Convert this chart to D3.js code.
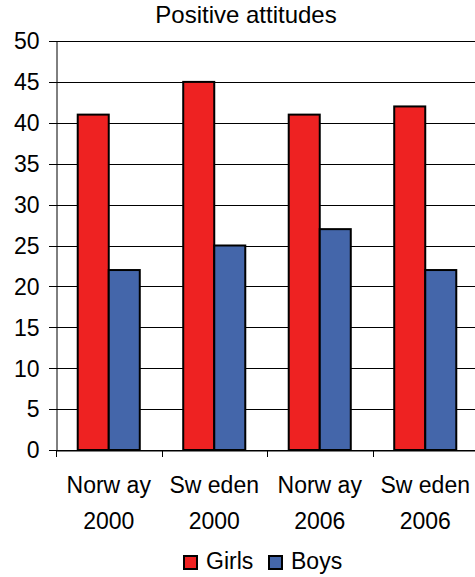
<!DOCTYPE html>
<html>
<head>
<meta charset="utf-8">
<script src="https://cdn.jsdelivr.net/npm/d3@7"></script>
<style>
  html, body { margin: 0; padding: 0; background: #fff; }
  svg { display: block; }
  text { font-family: "Liberation Sans", Arial, sans-serif; fill: #000; }
</style>
</head>
<body>
<svg id="chart" width="475" height="577"></svg>
<script>
const title = "Positive attitudes";
const categories = ["Norway 2000", "Sweden 2000", "Norway 2006", "Sweden 2006"];
const categoryLines = [["Norw ay", "2000"], ["Sw eden", "2000"], ["Norw ay", "2006"], ["Sw eden", "2006"]];
const seriesNames = ["Girls", "Boys"];
const girls = [41, 45, 41, 42];
const boys = [22, 25, 27, 22];
const seriesColors = ["#EE2222", "#4466AA"];
const yTicks = [0, 5, 10, 15, 20, 25, 30, 35, 40, 45, 50];

const svg = d3.select("#chart");
const plotLeft = 56, plotRight = 478, plotTop = 41, plotBottom = 450;

const x = d3.scaleBand().domain(categories).range([plotLeft, plotRight]).padding(0);
const xs = d3.scaleBand().domain(seriesNames).range([0, x.bandwidth()]).paddingInner(0).paddingOuter(0.7);
const y = d3.scaleLinear().domain([0, 50]).range([plotBottom, plotTop]);

// gridlines
svg.append("g")
  .selectAll("line")
  .data(yTicks)
  .join("line")
  .attr("x1", plotLeft - 7).attr("x2", plotRight)
  .attr("y1", d => Math.round(y(d)) + 0.5).attr("y2", d => Math.round(y(d)) + 0.5)
  .attr("stroke", "#000").attr("stroke-width", 1);

// y axis
const yAxis = svg.append("g")
  .attr("transform", `translate(${plotLeft + 0.5},0.5)`)
  .call(d3.axisLeft(y).tickValues(yTicks).tickSize(0).tickPadding(17));
yAxis.select(".domain").attr("stroke", "#000");
yAxis.selectAll("text").attr("font-size", "23px").attr("font-family", "Liberation Sans, Arial, sans-serif").attr("fill", "#000");

// bars
const data = categories.map((c, i) => ({ cat: c, vals: [girls[i], boys[i]] }));
const groups = svg.append("g").selectAll("g")
  .data(data).join("g")
  .attr("transform", d => `translate(${x(d.cat)},0)`);
groups.selectAll("rect")
  .data(d => d.vals.map((v, j) => ({ s: seriesNames[j], v, j })))
  .join("rect")
  .attr("x", d => xs(d.s))
  .attr("width", xs.bandwidth())
  .attr("y", d => y(d.v))
  .attr("height", d => y(0) - y(d.v))
  .attr("fill", d => seriesColors[d.j])
  .attr("stroke", "#000")
  .attr("stroke-width", 2);

// x axis
const xAxis = svg.append("g")
  .attr("transform", `translate(0,${plotBottom + 0.5})`)
  .call(d3.axisBottom(x).tickSize(0).tickFormat(""));
xAxis.select(".domain").attr("stroke", "#000");
xAxis.selectAll(".tick").remove();
svg.append("g").selectAll("line")
  .data(categories.map(c => x(c)).concat([plotRight]))
  .join("line")
  .attr("x1", d => Math.round(d) + 0.5).attr("x2", d => Math.round(d) + 0.5)
  .attr("y1", plotBottom).attr("y2", plotBottom + 7)
  .attr("stroke", "#000");

// x labels
const xl = svg.append("g").selectAll("text")
  .data(categories).join("text")
  .attr("x", d => x(d) + x.bandwidth() / 2)
  .attr("text-anchor", "middle")
  .attr("font-size", "23px");
xl.append("tspan").attr("x", d => x(d) + x.bandwidth() / 2).attr("y", 493).text((d, i) => categoryLines[i][0]);
xl.append("tspan").attr("x", d => x(d) + x.bandwidth() / 2).attr("y", 529).text((d, i) => categoryLines[i][1]);

// title
svg.append("text")
  .attr("x", 246).attr("y", 23)
  .attr("text-anchor", "middle")
  .attr("font-size", "24px")
  .text(title);

// legend
const legendX = [183, 268];
const lg = svg.append("g").selectAll("g")
  .data(seriesNames).join("g")
  .attr("transform", (d, i) => `translate(${legendX[i]},555)`);
lg.append("rect")
  .attr("x", 1).attr("y", 1).attr("width", 13).attr("height", 13)
  .attr("fill", (d, i) => seriesColors[i])
  .attr("stroke", "#000").attr("stroke-width", 2);
lg.append("text")
  .attr("x", 23).attr("y", 14)
  .attr("font-size", "23px")
  .text(d => d);
</script>
</body>
</html>
